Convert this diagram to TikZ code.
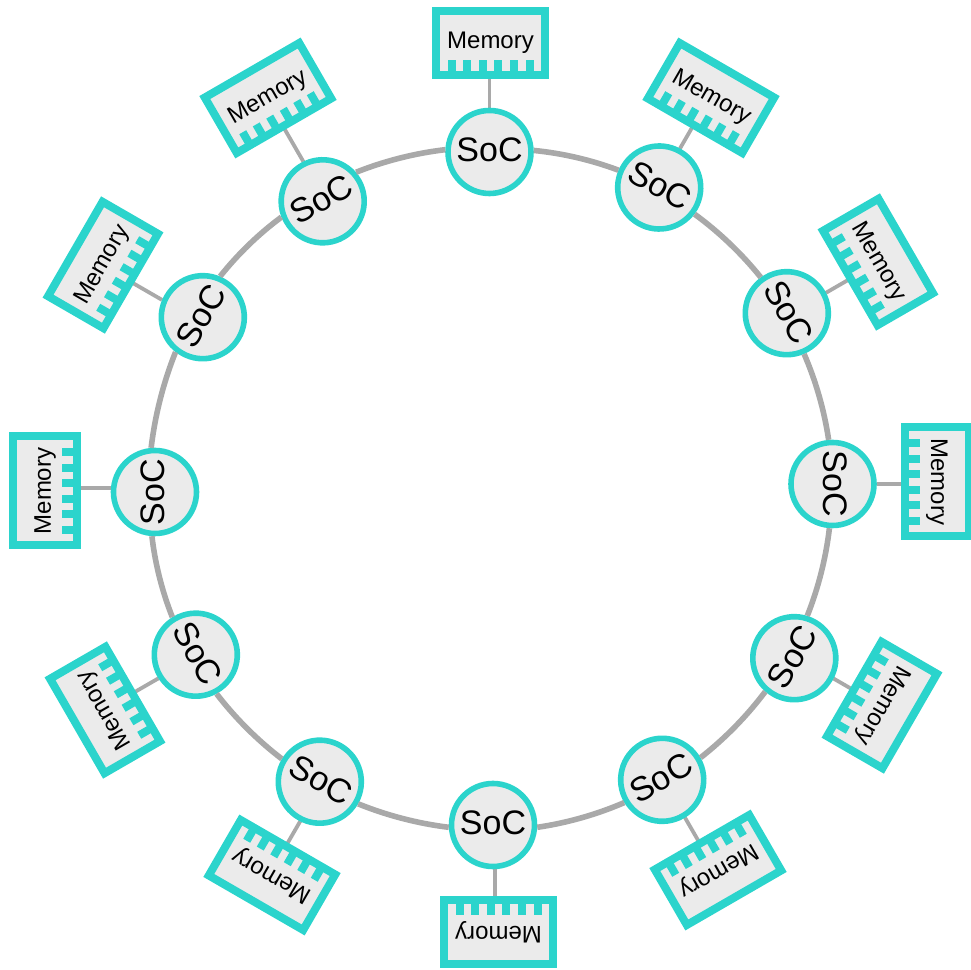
\documentclass[tikz,border=0pt]{standalone}
\usepackage{fontspec}
\setmainfont{Liberation Sans}
\usetikzlibrary{backgrounds}
\definecolor{teal}{HTML}{2BD4CC}
\definecolor{body}{HTML}{EBEBEB}
\definecolor{wire}{HTML}{A9A9A9}
\tikzset{
  socnode/.style={circle,draw=teal,fill=body,line width=5.6pt,minimum size=83pt,inner sep=0pt,font=\fontsize{34}{34}\selectfont},
  memnode/.style={rectangle,draw=teal,fill=body,line width=8pt,minimum width=109pt,minimum height=64pt,inner sep=0pt,font=\fontsize{24}{24}\selectfont},
  tooth/.style={fill=teal,draw=none},
  ring/.style={draw=wire,line width=5.6pt,bend left=7.5,looseness=0.85},
  link/.style={draw=wire,line width=3.8pt},
}
\begin{document}
\begin{tikzpicture}[x=1pt,y=1pt]
\useasboundingbox (0,0) rectangle (971,969);
\foreach \i/\a/\txt/\sx/\sy/\mx/\my/\o in {
  0/0/0/489.5/152/490.5/43/0,
  1/30/-30/659.2/187.5/711/98/-1.5,
  2/60/-60/786.8/313.2/878/262/1.9,
  3/90/-90/832.5/484/937/482/0,
  4/120/60/794.3/658.2/882/705/-2,
  5/150/30/662.2/779.8/718/870/-0.8,
  6/180/0/493/825/498.5/932/-2,
  7/210/-30/319.8/781.7/272/875/-2.8,
  8/240/-60/195.8/654.7/105/710/-1.8,
  9/270/90/155/492/45/491/4,
  10/300/60/202.8/317.2/103/265/-5.4,
  11/330/30/322.7/201.3/268/98/3.1}{
  \node[socnode,rotate=\txt] (soc\i) at (\sx,969-\sy) {\raisebox{5pt}{SoC}};
  \node[memnode,rotate=-\a] (mem\i) at (\mx,969-\my) {Memory};
  \begin{scope}[shift={(mem\i.center)},rotate=-\a]
    \foreach \t in {-39,-23.4,-7.8,7.8,23.4,39}
      \fill[tooth] (\t-4,-28.5) rectangle (\t+4,-17);
  \end{scope}
  \begin{scope}[shift={(soc\i.center)},rotate=-\a]
    \coordinate (from\i) at (\o,44);
    \coordinate (to\i) at (\o,90);
  \end{scope}
  \begin{pgfonlayer}{background}
    \draw[link] (from\i) -- (to\i);
  \end{pgfonlayer}
}
\foreach \i/\j/\ti/\tj/\p/\q in {
  0/1/0/-30/2.6/157.7,
  1/2/-30/-60/-37.3/126.8,
  2/3/-60/-90/-67.6/95.8,
  3/4/-90/60/-94.5/73.4,
  4/5/60/30/-131.2/29.2,
  5/6/30/0/-149.5/-3,
  6/7/0/-30/-177/-30,
  7/8/-30/-60/149.5/-62.8,
  8/9/-60/90/122.4/-94.4,
  9/10/90/60/95.6/-128,
  10/11/60/30/67/-159.4,
  11/0/30/0/41/177.4}{
  \pgfmathsetmacro\pp{\p-\ti}
  \pgfmathsetmacro\qq{\q-\tj}
  \draw[ring] (soc\i.\pp) to (soc\j.\qq);
}
\end{tikzpicture}
\end{document}
